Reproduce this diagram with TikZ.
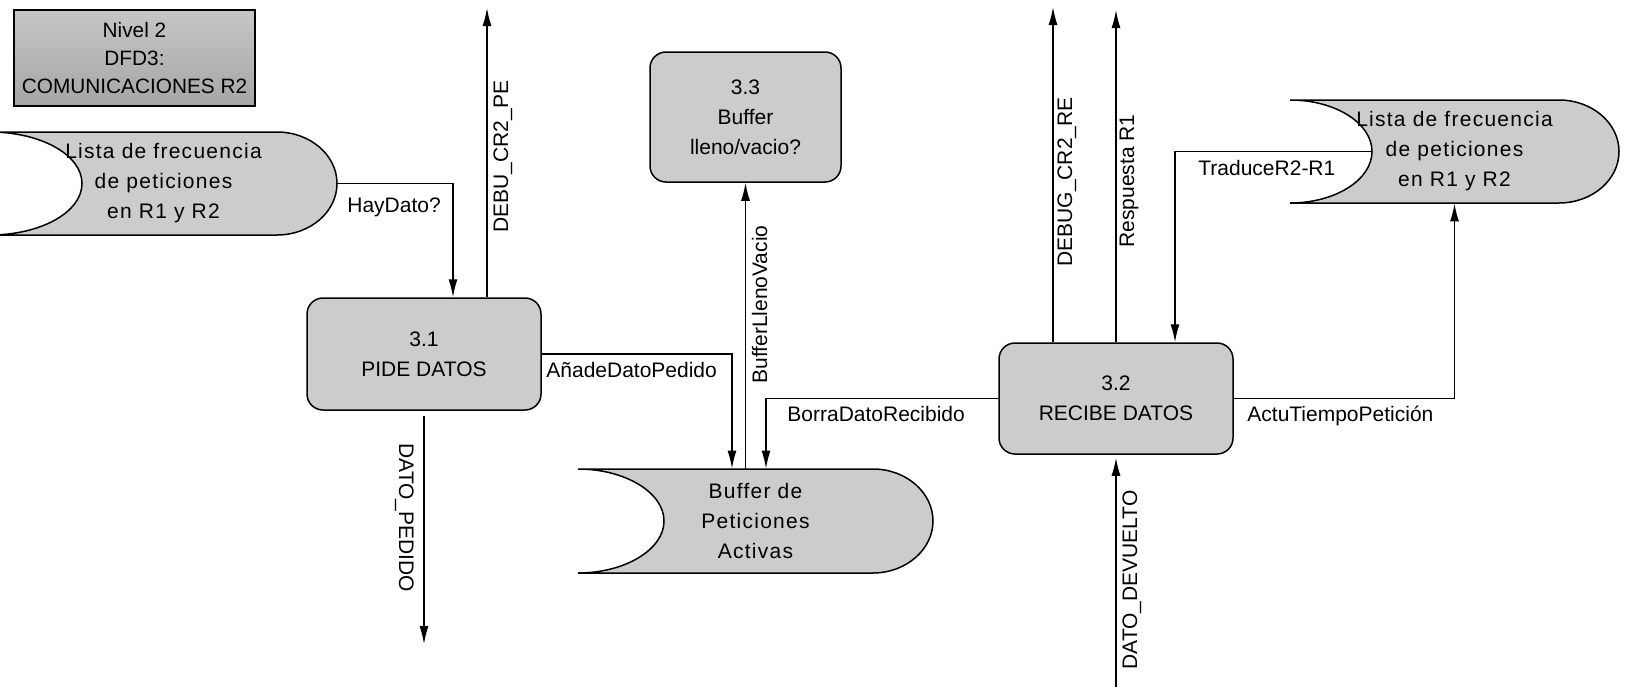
\documentclass[tikz,border=0pt]{standalone}
\usepackage{fontspec}
\setmainfont{Liberation Sans}
\usetikzlibrary{arrows.meta}

\begin{document}
\begin{tikzpicture}[x=0.5pt,y=-0.5pt,
  font=\fontsize{10.5}{15}\selectfont,
  proceso/.style={draw,line width=0.75pt,rounded corners=8pt,fill=gray!40,align=center,inner sep=0pt},
  almacen/.style={draw,line width=0.75pt,fill=gray!40},
  textoalm/.style={align=center,inner sep=0pt,font=\fontsize{10.5}{15}\selectfont\addfontfeatures{LetterSpace=6}},
  flujo/.style={line width=0.7pt,-{Latex[length=9pt,width=4.5pt]}},
  etiqueta/.style={inner sep=0pt,anchor=base west}]
\useasboundingbox (0,0) rectangle (1628,696);

\node[draw,line width=0.75pt,top color=gray!45,bottom color=gray!70,minimum width=120.5pt,minimum height=48pt,align=center,font=\fontsize{10.4}{14}\selectfont](titulo) at (134.5,58){Nivel 2\\DFD3:\\COMUNICACIONES R2};

\filldraw[almacen] (-10,132) -- (277,132) .. controls (310,132) and (337,155) .. (337,183.5) .. controls (337,212) and (310,235) .. (277,235) -- (-10,235) .. controls (41,235) and (82,212) .. (82,183.5) .. controls (82,155) and (41,132) .. (-10,132) -- cycle;
\node[textoalm,minimum width=173.5pt,minimum height=51.5pt](listaA) at (163.5,183.5){Lista de frecuencia\\de peticiones\\en R1 y R2};

\filldraw[almacen] (578,469) -- (873,469) .. controls (906,469) and (933,492.5) .. (933,521) .. controls (933,549.5) and (906,573) .. (873,573) -- (578,573) .. controls (625,573) and (664,549.5) .. (664,521) .. controls (664,492.5) and (625,469) .. (578,469) -- cycle;
\node[textoalm,minimum width=177.5pt,minimum height=52pt](buffer) at (755.5,521){Buffer de\\Peticiones\\Activas};

\filldraw[almacen] (1290,100) -- (1559,100) .. controls (1592,100) and (1619,123) .. (1619,151.5) .. controls (1619,180) and (1592,203) .. (1559,203) -- (1290,203) .. controls (1335,203) and (1372,180) .. (1372,151.5) .. controls (1372,123) and (1335,100) .. (1290,100) -- cycle;
\node[textoalm,minimum width=164.5pt,minimum height=51.5pt](listaC) at (1454.5,151.5){Lista de frecuencia\\de peticiones\\en R1 y R2};

\node[proceso,minimum width=117pt,minimum height=56pt](p1) at (424,354){3.1\\PIDE DATOS};
\node[proceso,minimum width=95.5pt,minimum height=65pt](p3) at (745.5,117){3.3\\Buffer\\lleno/vacio?};
\node[proceso,minimum width=117pt,minimum height=55.5pt](p2) at (1116,398.5){3.2\\RECIBE DATOS};

\coordinate (debuPE) at (487,8);
\coordinate (datoPE) at (424,644);
\coordinate (debugRE) at (1053,7);
\coordinate (respR1) at (1116,10);
\coordinate (datoDE) at (1116,687);

\draw[flujo] (listaA.east) -| ([xshift=14.5pt]p1.north);
\draw[flujo] ([xshift=31.5pt]p1.north) -- (debuPE);
\draw[flujo] ([yshift=-2.5pt]p1.south) -- (datoPE);
\draw[flujo] (p1.east) -| ([xshift=-11.75pt]buffer.north);
\draw[flujo] (p3.south |- buffer.north) -- (p3.south);
\draw[flujo] (p2.west) -| ([xshift=5.25pt]buffer.north);
\draw[flujo] ([xshift=-31.5pt]p2.north) -- (debugRE);
\draw[flujo] (p2.north) -- (respR1);
\draw[flujo] ([xshift=41pt]listaC.west) -| ([xshift=29.5pt]p2.north);
\draw[flujo] (p2.east) -| (listaC.south);
\draw[flujo] (datoDE) -- ([yshift=-1.5pt]p2.south);

\node[etiqueta](lHay) at (347,212){HayDato?};
\node[etiqueta,rotate=90](lDebuPE) at (508,233){DEBU\_CR2\_PE};
\node[etiqueta,rotate=-90](lDatoPE) at (399,443){DATO\_PEDIDO};
\node[etiqueta](lAnade) at (546,377){AñadeDatoPedido};
\node[etiqueta,rotate=90](lLleno) at (767,384){BufferLlenoVacio};
\node[etiqueta](lBorra) at (787,421){BorraDatoRecibido};
\node[etiqueta,rotate=90](lDebugRE) at (1072,267){DEBUG\_CR2\_RE};
\node[etiqueta,rotate=90](lResp) at (1134,248){Respuesta R1};
\node[etiqueta](lTraduce) at (1198,175){TraduceR2-R1};
\node[etiqueta](lActu) at (1247,421){ActuTiempoPetición};
\node[etiqueta,rotate=90](lDatoDE) at (1137,670){DATO\_DEVUELTO};

\end{tikzpicture}
\end{document}
